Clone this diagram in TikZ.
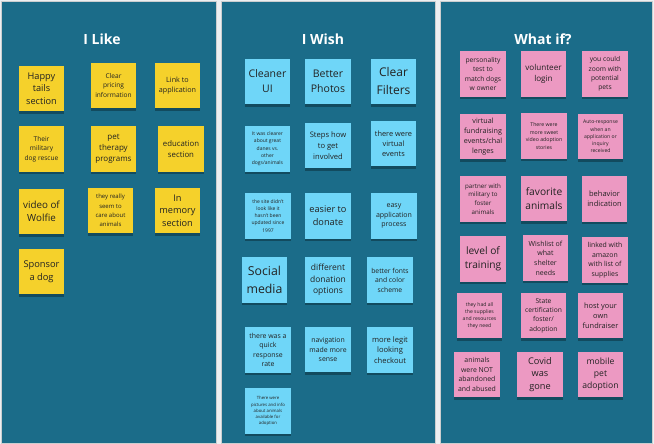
\documentclass[tikz,border=0pt]{standalone}
\usepackage{fontspec}
\setmainfont{Open Sans}
\usetikzlibrary{shadows}
\definecolor{board}{HTML}{1B6C89}
\definecolor{page}{HTML}{EDEFF1}
\definecolor{yel}{HTML}{F5D12B}
\definecolor{sky}{HTML}{6FD6F8}
\definecolor{rose}{HTML}{EC99C2}
\definecolor{ink}{HTML}{222222}
\tikzset{
  panel/.style={fill=board, draw=page!70!gray, line width=0.6pt},
  heading/.style={text=white, font=\fontsize{14}{17}\selectfont\bfseries},
  note/.style={minimum width=45.5pt, minimum height=45.5pt, inner sep=0pt,
    align=center, text=ink,
    drop shadow={shadow xshift=0pt, shadow yshift=-2.5pt, opacity=0.3, fill=black}},
  ynote/.style={note, fill=yel},
  bnote/.style={note, fill=sky},
  pnote/.style={note, fill=rose},
  fz/.style 2 args={font=\fontsize{#1}{#2}\selectfont},
}
\begin{document}
\begin{tikzpicture}[x=1pt, y=-1pt]
\fill[page] (0,0) rectangle (654,444);
\useasboundingbox (0,0) rectangle (654,444);
% three boards
\draw[panel] (1,1) rectangle (216,443);
\draw[panel] (221,1) rectangle (435,443);
\draw[panel] (440,1) rectangle (652,443);
\node[heading] (t1) at (102,39) {I Like};
\node[heading] (t2) at (323,39) {I Wish};
\node[heading] (t3) at (543,39) {What if?};

% I Like
\node[ynote, fz={9.2}{12.5}] (l1) at (41.5,88.5) {Happy\\tails\\section};
\node[ynote, fz={6.6}{9.2}] (l2) at (113.5,85.5) {Clear\\pricing\\information};
\node[ynote, fz={7.2}{10}] (l3) at (177.5,85.5) {Link to\\application};
\node[ynote, fz={6.6}{9.3}] (l4) at (41.5,149) {Their\\military\\dog rescue};
\node[ynote, fz={8}{11}] (l5) at (113.5,149) {pet\\therapy\\programs};
\node[ynote, fz={7.8}{10.7}] (l6) at (181,149) {education\\section};
\node[ynote, fz={9.8}{13.3}] (l7) at (41.5,211.5) {video of\\Wolfie};
\node[ynote, fz={6}{9.3}] (l8) at (110.5,210.5) {they really\\seem to\\care about\\animals};
\node[ynote, fz={9.2}{12.5}] (l9) at (177.5,210.5) {In\\memory\\section};
\node[ynote, fz={9.3}{12.7}] (l10) at (41.5,271.5) {Sponsor\\a dog};

% I Wish
\node[bnote, fz={10.5}{15}] (w1) at (267.5,81.5) {Cleaner\\UI};
\node[bnote, fz={10.5}{15.5}] (w2) at (328,81.5) {Better\\Photos};
\node[bnote, fz={12}{18}] (w3) at (393.5,81.5) {Clear\\Filters};
\node[bnote, fz={5}{7.3}] (w4) at (267.5,149) {It was clearer\\about great\\danes vs.\\other\\dogs/animals};
\node[bnote, fz={7.6}{10.7}] (w5) at (328,145.5) {Steps how\\to get\\involved};
\node[bnote, fz={7.4}{10}] (w6) at (393.5,143.5) {there were\\virtual\\events};
\node[bnote, fz={5}{7.1}] (w7) at (268,216) {the site didn't\\look like it\\hasn't been\\updated since\\1997};
\node[bnote, fz={9.2}{12.7}] (w8) at (328,216) {easier to\\donate};
\node[bnote, fz={7}{9.7}] (w9) at (394,216) {easy\\application\\process};
\node[bnote, fz={12.3}{17.3}] (w10) at (264.5,280) {Social\\media};
\node[bnote, fz={8.5}{11.7}] (w11) at (328,280) {different\\donation\\options};
\node[bnote, fz={6.8}{9.5}] (w12) at (390,280) {better fonts\\and color\\scheme};
\node[bnote, fz={6.9}{9.5}] (w13) at (268,350) {there was a\\quick\\response\\rate};
\node[bnote, fz={6.9}{9.7}] (w14) at (328,349.5) {navigation\\made more\\sense};
\node[bnote, fz={7.6}{10.5}] (w15) at (390,350) {more legit\\looking\\checkout};
\node[bnote, fz={4.3}{6.1}] (w16) at (268,411) {There were\\pictures and info\\about animals\\available for\\adoption};

% What if?
\node[pnote, fz={6.7}{9.3}] (f1) at (483,74) {personality\\test to\\match dogs\\w owner};
\node[pnote, fz={8.1}{11}] (f2) at (543.5,74) {volunteer\\login};
\node[pnote, fz={6.7}{9.3}] (f3) at (605,74) {you could\\zoom with\\potential\\pets};
\node[pnote, fz={7.2}{10}] (f4) at (483,136.5) {virtual\\fundraising\\events/chal\\lenges};
\node[pnote, fz={5.2}{7.4}] (f5) at (544,136) {There were\\more sweet\\video adoption\\stories};
\node[pnote, fz={5.1}{7.3}] (f6) at (600.5,136.5) {Auto-response\\when an\\application or\\inquiry\\received};
\node[pnote, fz={6.2}{8.7}] (f7) at (483,199) {partner with\\military to\\foster\\animals};
\node[pnote, fz={10.2}{14}] (f8) at (544,198.5) {favorite\\animals};
\node[pnote, fz={7.5}{10.3}] (f9) at (604.5,199) {behavior\\indication};
\node[pnote, fz={10.2}{14}] (f10) at (483,259) {level of\\training};
\node[pnote, fz={7}{9.7}] (f11) at (545.5,258) {Wishlist of\\what\\shelter\\needs};
\node[pnote, fz={6.9}{9.5}] (f12) at (605,260) {linked with\\amazon\\with list of\\supplies};
\node[pnote, fz={5.1}{7.2}] (f13) at (479.5,315.5) {they had all\\the supplies\\and resources\\they need};
\node[pnote, fz={6.7}{9.3}] (f14) at (543.5,315.5) {State\\certification\\foster/\\adoption};
\node[pnote, fz={7.4}{10}] (f15) at (600.5,315.5) {host your\\own\\fundraiser};
\node[pnote, fz={6.9}{9.5}] (f16) at (477,374.5) {animals\\were NOT\\abandoned\\and abused};
\node[pnote, fz={9.2}{12.7}] (f17) at (540,374.5) {Covid\\was\\gone};
\node[pnote, fz={8.6}{11.8}] (f18) at (600.5,374.5) {mobile\\pet\\adoption};
\end{tikzpicture}
\end{document}
